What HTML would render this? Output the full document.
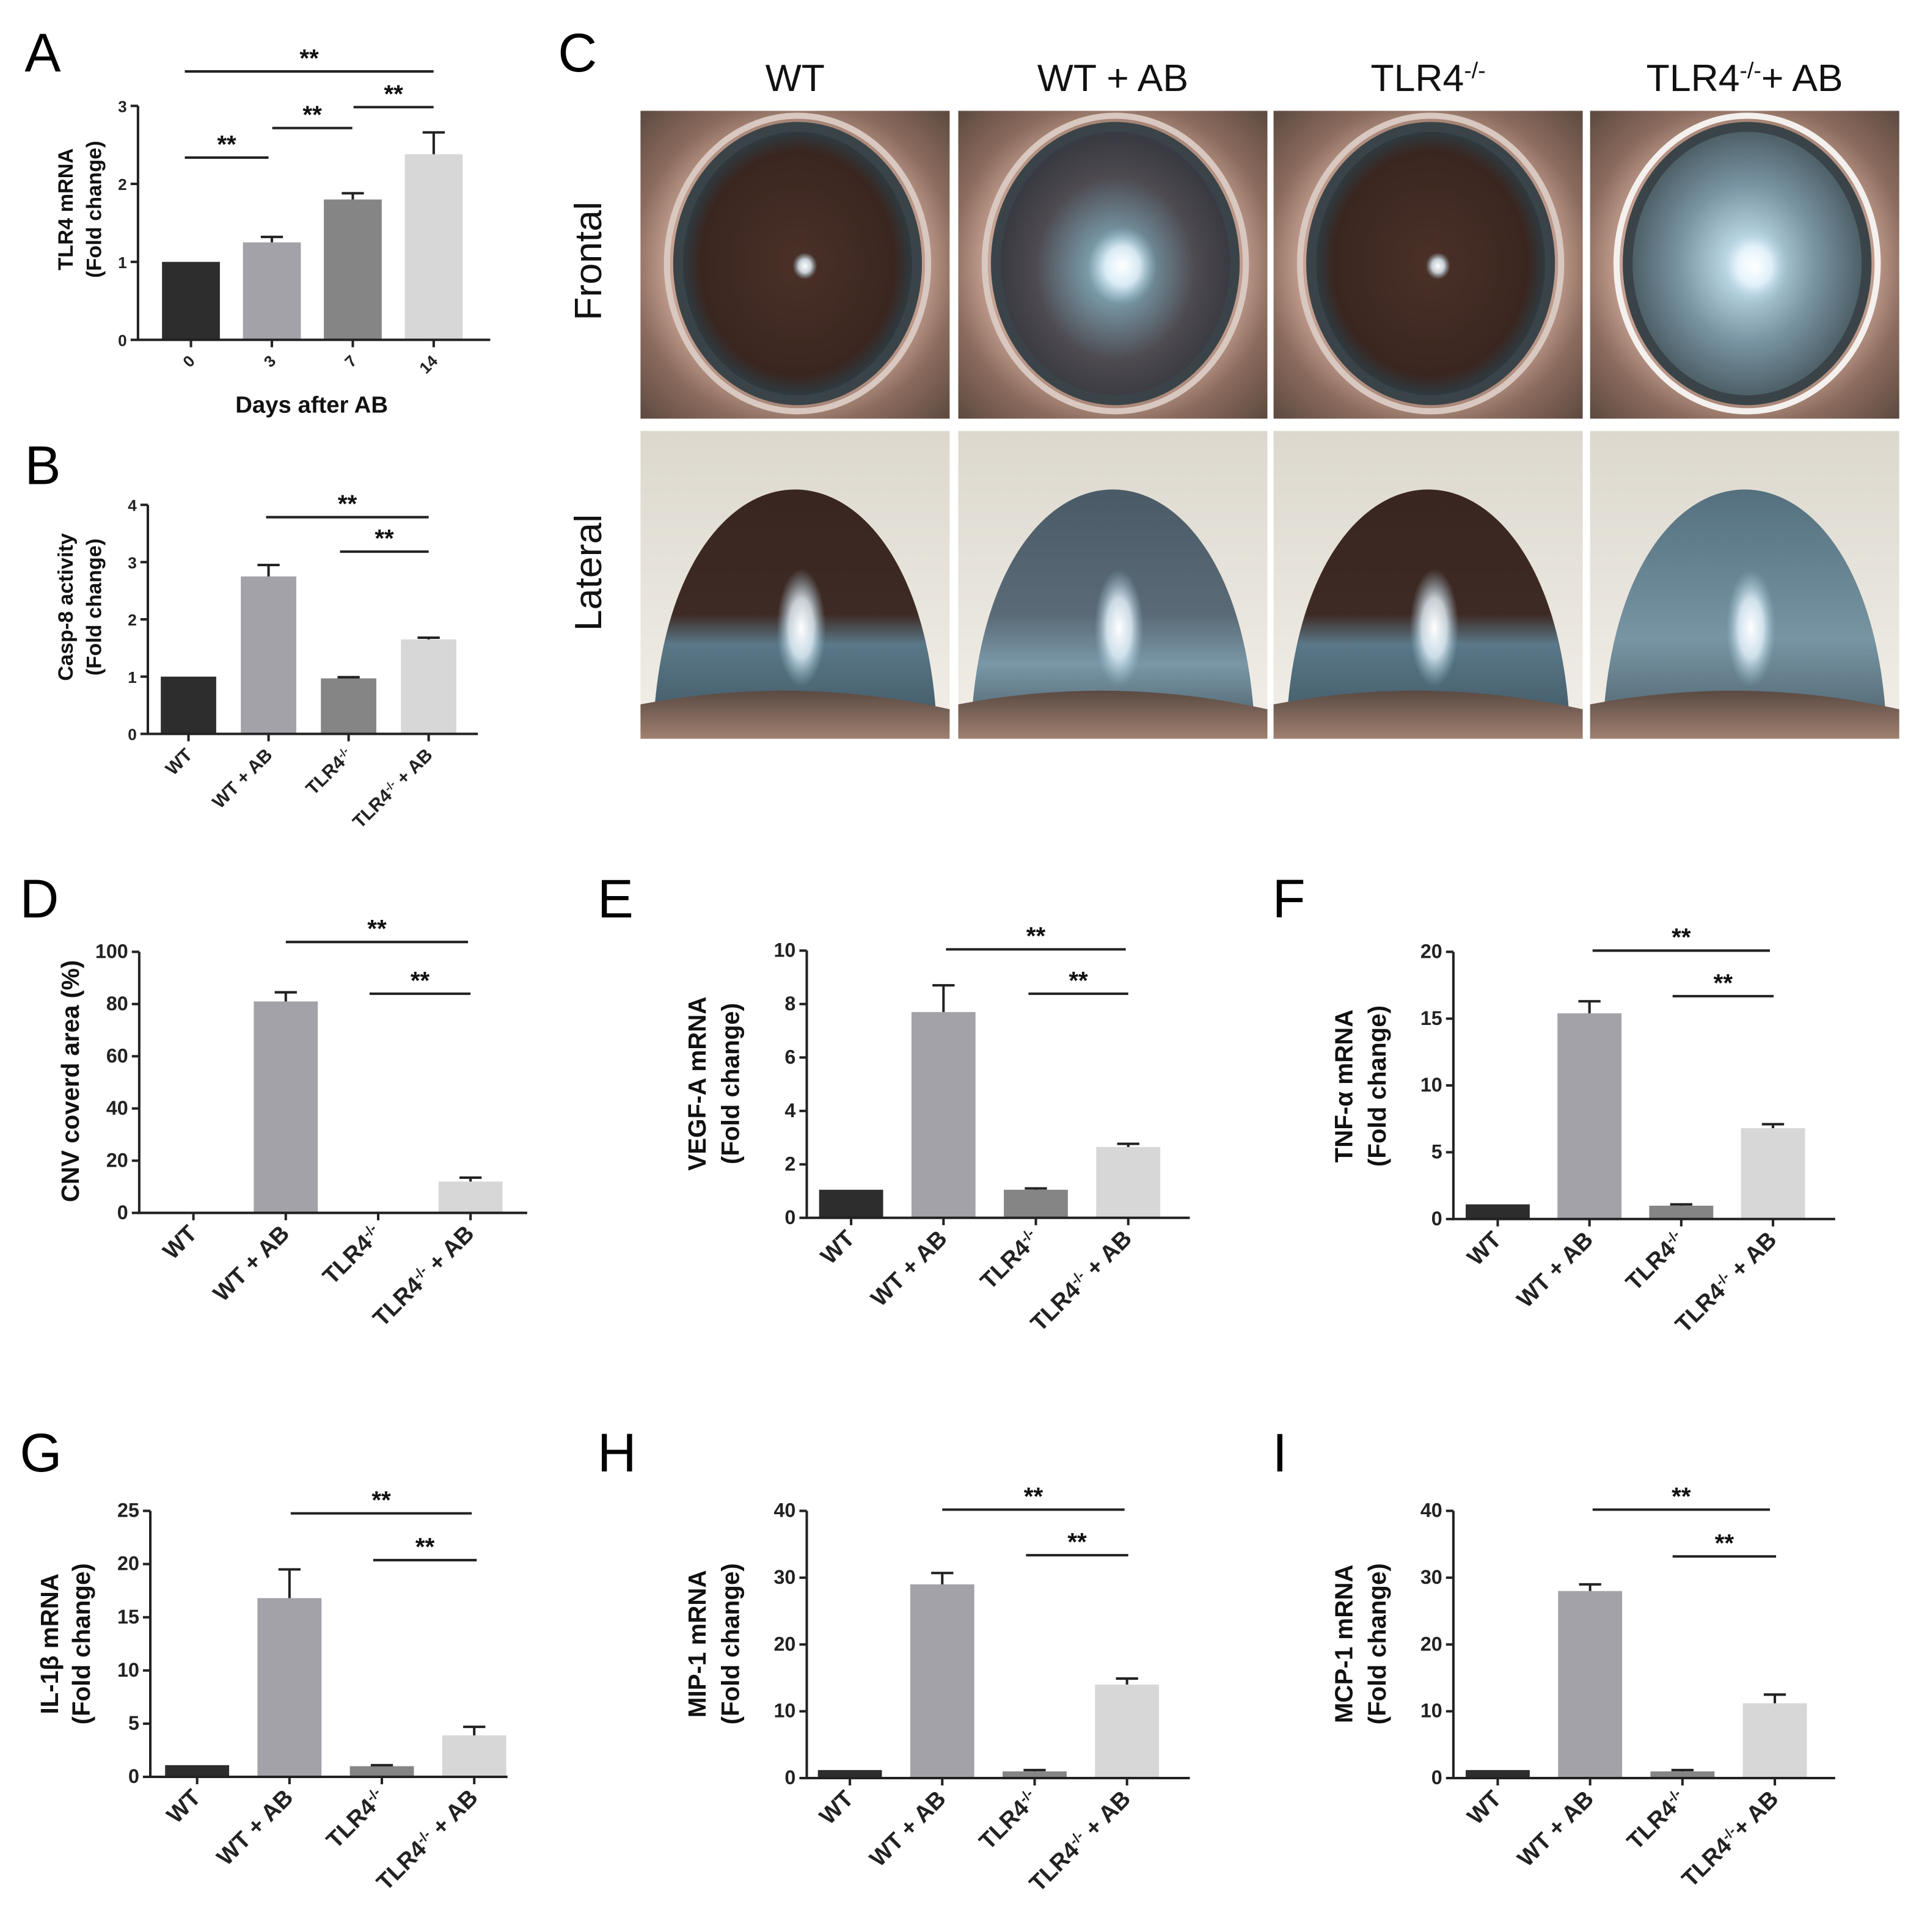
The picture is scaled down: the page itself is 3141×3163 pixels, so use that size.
<!DOCTYPE html>
<html><head><meta charset="utf-8"><style>
html,body{margin:0;padding:0;background:#fff;}
svg{display:block;font-family:"Liberation Sans",Arial,sans-serif;}
</style></head><body>
<svg id="fig" width="3141" height="3163" viewBox="0 0 1558 1569" xmlns="http://www.w3.org/2000/svg">
<defs>
<radialGradient id="skin" cx="50%" cy="50%" r="70%"><stop offset="0.55" stop-color="#cfa99a"/><stop offset="0.75" stop-color="#8b6c5e"/><stop offset="1" stop-color="#5e4a40"/></radialGradient>
<radialGradient id="eyeBrown" cx="50%" cy="50%" r="50%"><stop offset="0" stop-color="#4a3128"/><stop offset="0.85" stop-color="#3a2620"/><stop offset="1" stop-color="#2e3a40"/></radialGradient>
<radialGradient id="eyeMixed" cx="50%" cy="52%" r="50%"><stop offset="0" stop-color="#c8e4ef"/><stop offset="0.25" stop-color="#7898a6"/><stop offset="0.7" stop-color="#4d4a50"/><stop offset="1" stop-color="#3a3a42"/></radialGradient>
<radialGradient id="eyeBlue" cx="50%" cy="50%" r="50%"><stop offset="0" stop-color="#ffffff"/><stop offset="0.2" stop-color="#b8d4e0"/><stop offset="0.6" stop-color="#7894a2"/><stop offset="1" stop-color="#4e6068"/></radialGradient>
<linearGradient id="latBg" x1="0" y1="0" x2="0" y2="1"><stop offset="0" stop-color="#dcd8ce"/><stop offset="1" stop-color="#f2efe8"/></linearGradient>
<linearGradient id="domeBrown" x1="0" y1="0" x2="0" y2="1"><stop offset="0" stop-color="#3a2620"/><stop offset="0.5" stop-color="#3e2a24"/><stop offset="0.62" stop-color="#5a7888"/><stop offset="1" stop-color="#3e5460"/></linearGradient>
<linearGradient id="domeMixed" x1="0" y1="0" x2="0" y2="1"><stop offset="0" stop-color="#4a5a66"/><stop offset="0.5" stop-color="#5a6a76"/><stop offset="0.7" stop-color="#7a98a8"/><stop offset="1" stop-color="#44565f"/></linearGradient>
<linearGradient id="domeBlue" x1="0" y1="0" x2="0" y2="1"><stop offset="0" stop-color="#54707e"/><stop offset="0.6" stop-color="#7895a4"/><stop offset="1" stop-color="#4a5e68"/></linearGradient>
<linearGradient id="fur" x1="0" y1="0" x2="0" y2="1"><stop offset="0" stop-color="#5a4a42"/><stop offset="1" stop-color="#a08070"/></linearGradient>
<radialGradient id="glare" cx="50%" cy="50%" r="50%"><stop offset="0" stop-color="#fff"/><stop offset="0.5" stop-color="#e8f6ff" stop-opacity="0.8"/><stop offset="1" stop-color="#a0c8dc" stop-opacity="0"/></radialGradient>
</defs>
<g id="photos"></g>
<g id="charts"></g>
</svg>
<script>
// ---------------- Data ----------------
const catsA = ['0', '3', '7', '14'];
const valsA = [1.0, 1.25, 1.8, 2.38];
const errsA = [0.0, 0.07, 0.08, 0.28];
const ticksA = [0, 1, 2, 3];

const catsGroup = ['WT', 'WT + AB', 'TLR4-/-', 'TLR4-/- + AB'];
const catsGroupI = ['WT', 'WT + AB', 'TLR4-/-', 'TLR4-/-+ AB'];

const valsB = [1.0, 2.75, 0.97, 1.65];
const errsB = [0.0, 0.2, 0.02, 0.03];
const ticksB = [0, 1, 2, 3, 4];

const valsD = [0, 81, 0, 12];
const errsD = [0, 3.5, 0, 1.5];
const ticksD = [0, 20, 40, 60, 80, 100];

const valsE = [1.05, 7.7, 1.05, 2.65];
const errsE = [0, 1.0, 0.05, 0.12];
const ticksE = [0, 2, 4, 6, 8, 10];

const valsF = [1.1, 15.4, 1.0, 6.8];
const errsF = [0, 0.9, 0.1, 0.3];
const ticksF = [0, 5, 10, 15, 20];

const valsG = [1.1, 16.8, 1.0, 3.9];
const errsG = [0, 2.7, 0.1, 0.8];
const ticksG = [0, 5, 10, 15, 20, 25];

const valsH = [1.2, 29, 1.0, 14];
const errsH = [0, 1.7, 0.2, 0.9];
const ticksH = [0, 10, 20, 30, 40];

const valsI = [1.2, 28, 1.0, 11.2];
const errsI = [0, 1.0, 0.2, 1.3];
const ticksI = [0, 10, 20, 30, 40];

const barColors = ['#2d2d2d', '#a3a2a9', '#858585', '#d7d7d7'];

const NS = 'http://www.w3.org/2000/svg';
function mk(tag, attrs, parent) {
  const e = document.createElementNS(NS, tag);
  for (const k in attrs) e.setAttribute(k, attrs[k]);
  parent.appendChild(e);
  return e;
}
function addLabelText(t, label) {
  const m = label.match(/^(TLR4)(-\/-)(.*)$/);
  if (m) {
    t.appendChild(document.createTextNode(m[1]));
    const s = document.createElementNS(NS, 'tspan');
    s.setAttribute('baseline-shift', 'super');
    s.setAttribute('font-size', '0.6em');
    s.textContent = m[2];
    t.appendChild(s);
    const r = document.createElementNS(NS, 'tspan');
    r.textContent = m[3];
    t.appendChild(r);
  } else t.textContent = label;
}

const chartsRoot = document.getElementById('charts');

function drawChart(cfg) {
  const g = mk('g', {}, chartsRoot);
  
  
  const yMax = cfg.ticks[cfg.ticks.length - 1];
  const yS = v => cfg.y0 - (v / yMax) * (cfg.y0 - cfg.yTop);
  const xS = i => cfg.xc0 + i * cfg.dx;

  const L = mk('text', {x: cfg.letter[0], y: cfg.letter[1], 'font-size': 44, fill: '#000'}, g);
  L.textContent = cfg.letterText;
  
  

  cfg.vals.forEach((v, i) => {
    const cx = xS(i);
    const top = yS(v);
    const b = mk('rect', {x: cx - cfg.bw / 2, y: top, width: cfg.bw, height: Math.max(0, cfg.y0 - top), fill: barColors[i]}, g);
    
    
    const e = cfg.errs[i];
    if (e > 0) {
      const ye = yS(v + e);
      const eb = mk('path', {d: `M${cx} ${top} V${ye} M${cx - 9} ${ye} H${cx + 9}`, stroke: '#222', 'stroke-width': 2, fill: 'none'}, g);
      
      
    }
  });

  const ax = mk('path', {d: `M${cfg.x0} ${cfg.yTop} V${cfg.y0} H${cfg.xEnd}`, stroke: '#222', 'stroke-width': 2, fill: 'none'}, g);
  
  

  cfg.ticks.forEach(t => {
    const y = yS(t);
    mk('line', {x1: cfg.x0 - 6, x2: cfg.x0, y1: y, y2: y, stroke: '#222', 'stroke-width': 2}, g);
    const tl = mk('text', {x: cfg.x0 - 9, y: y + 5, 'font-size': cfg.tickFs, 'text-anchor': 'end', 'font-weight': 'bold', fill: '#222'}, g);
    tl.textContent = t;
    
    
  });

  cfg.cats.forEach((c, i) => {
    const x = xS(i);
    mk('line', {x1: x, x2: x, y1: cfg.y0, y2: cfg.y0 + 6, stroke: '#222', 'stroke-width': 2}, g);
    const tx = mk('text', {x: x + 4, y: cfg.y0 + 18, 'font-size': cfg.catFs, 'text-anchor': 'end', 'font-weight': 'bold', fill: '#222', transform: `rotate(-45 ${x + 4} ${cfg.y0 + 18})`}, g);
    addLabelText(tx, c);
    
    
  });

  cfg.ytitle.forEach((line, k) => {
    const tx = cfg.ytx[k];
    const t = mk('text', {x: tx, y: cfg.yty, 'font-size': cfg.ytFs, 'text-anchor': 'middle', 'font-weight': 'bold', fill: '#111', transform: `rotate(-90 ${tx} ${cfg.yty})`}, g);
    t.textContent = line;
    
    
  });

  cfg.sig.forEach(s => {
    const ln = mk('line', {x1: s[0], x2: s[1], y1: s[2], y2: s[2], stroke: '#222', 'stroke-width': 2}, g);
    
    
    const st = mk('text', {x: (s[0] + s[1]) / 2, y: s[2] - 4, 'font-size': 20, 'text-anchor': 'middle', 'font-weight': 'bold', fill: '#111'}, g);
    st.textContent = '**';
    
    
  });

  if (cfg.xtitle) {
    const xt = mk('text', {x: cfg.xtitle[1], y: cfg.xtitle[2], 'font-size': 19, 'text-anchor': 'middle', 'font-weight': 'bold', fill: '#111'}, g);
    xt.textContent = cfg.xtitle[0];
    
    
  }
}

drawChart({name: 'chart-a', letterText: 'A', letter: [20, 58], cats: catsA, vals: valsA, errs: errsA, ticks: ticksA,
  x0: 112, xEnd: 398, y0: 276, yTop: 86, xc0: 155, dx: 65.7, bw: 47, tickFs: 13, catFs: 13,
  ytitle: ['TLR4 mRNA', '(Fold change)'], ytx: [59, 82], yty: 170, ytFs: 17,
  sig: [[150, 352, 58], [150, 218, 128], [221, 286, 104], [287, 352, 87]], xtitle: ['Days after AB', 253, 335]});

drawChart({name: 'chart-b', letterText: 'B', letter: [20, 393], cats: catsGroup, vals: valsB, errs: errsB, ticks: ticksB,
  x0: 120, xEnd: 388, y0: 596, yTop: 410, xc0: 153, dx: 65, bw: 45, tickFs: 13, catFs: 15,
  ytitle: ['Casp-8 activity', '(Fold change)'], ytx: [59, 82], yty: 493, ytFs: 17,
  sig: [[216, 348, 420], [276, 348, 448]]});

drawChart({name: 'chart-d', letterText: 'D', letter: [16, 745], cats: catsGroup, vals: valsD, errs: errsD, ticks: ticksD,
  x0: 113, xEnd: 428, y0: 985, yTop: 773, xc0: 157, dx: 75, bw: 52, tickFs: 16, catFs: 19,
  ytitle: ['CNV coverd area (%)'], ytx: [64], yty: 878, ytFs: 20,
  sig: [[232, 380, 765], [300, 382, 807]]});

drawChart({name: 'chart-e', letterText: 'E', letter: [485, 745], cats: catsGroup, vals: valsE, errs: errsE, ticks: ticksE,
  x0: 655, xEnd: 966, y0: 989, yTop: 772, xc0: 691, dx: 75, bw: 52, tickFs: 16, catFs: 19,
  ytitle: ['VEGF-A mRNA', '(Fold change)'], ytx: [573, 600], yty: 880, ytFs: 20,
  sig: [[768, 914, 771], [835, 916, 807]]});

drawChart({name: 'chart-f', letterText: 'F', letter: [1033, 745], cats: catsGroup, vals: valsF, errs: errsF, ticks: ticksF,
  x0: 1180, xEnd: 1490, y0: 990, yTop: 773, xc0: 1216, dx: 74.5, bw: 52, tickFs: 16, catFs: 19,
  ytitle: ['TNF-α mRNA', '(Fold change)'], ytx: [1098, 1125], yty: 882, ytFs: 20,
  sig: [[1293, 1437, 772], [1358, 1440, 809]]});

drawChart({name: 'chart-g', letterText: 'G', letter: [16, 1195], cats: catsGroup, vals: valsG, errs: errsG, ticks: ticksG,
  x0: 122, xEnd: 412, y0: 1443, yTop: 1227, xc0: 160, dx: 75, bw: 52, tickFs: 16, catFs: 19,
  ytitle: ['IL-1β mRNA', '(Fold change)'], ytx: [47, 73], yty: 1335, ytFs: 20,
  sig: [[236, 383, 1229], [303, 387, 1267]]});

drawChart({name: 'chart-h', letterText: 'H', letter: [485, 1195], cats: catsGroup, vals: valsH, errs: errsH, ticks: ticksH,
  x0: 655, xEnd: 966, y0: 1444, yTop: 1227, xc0: 690, dx: 75, bw: 52, tickFs: 16, catFs: 19,
  ytitle: ['MIP-1 mRNA', '(Fold change)'], ytx: [573, 600], yty: 1335, ytFs: 20,
  sig: [[765, 913, 1226], [833, 916, 1263]]});

drawChart({name: 'chart-i', letterText: 'I', letter: [1033, 1195], cats: catsGroupI, vals: valsI, errs: errsI, ticks: ticksI,
  x0: 1180, xEnd: 1490, y0: 1444, yTop: 1227, xc0: 1216, dx: 75, bw: 52, tickFs: 16, catFs: 19,
  ytitle: ['MCP-1 mRNA', '(Fold change)'], ytx: [1098, 1125], yty: 1335, ytFs: 20,
  sig: [[1293, 1437, 1226], [1358, 1442, 1264]]});

// ---------------- Panel C photos ----------------
const ph = document.getElementById('photos');
const cl = mk('text', {x: 453, y: 58, 'font-size': 44, fill: '#000'}, ph);
cl.textContent = 'C';



const colX = [520, 778, 1034, 1291];
const colW = 251;
const colTitles = ['WT', 'WT + AB', 'TLR4-/-', 'TLR4-/-+ AB'];
const frontFill = ['url(#eyeBrown)', 'url(#eyeMixed)', 'url(#eyeBrown)', 'url(#eyeBlue)'];
const domeFill = ['url(#domeBrown)', 'url(#domeMixed)', 'url(#domeBrown)', 'url(#domeBlue)'];
colX.forEach((x, i) => {
  const cx = x + colW / 2;
  const t = mk('text', {x: cx, y: 74, 'font-size': 31, 'text-anchor': 'middle', fill: '#111'}, ph);
  addLabelText(t, colTitles[i]);
  
  
  const f = mk('g', {}, ph);
  
  
  mk('rect', {x: x, y: 90, width: colW, height: 250, fill: 'url(#skin)'}, f);
  mk('ellipse', {cx: cx + 2, cy: 214, rx: 106, ry: 120, fill: 'none', stroke: i === 3 ? '#f4f0ee' : '#d8c8c0', 'stroke-width': 5}, f);
  mk('ellipse', {cx: cx + 2, cy: 214, rx: 101, ry: 115, fill: '#3a4448'}, f);
  mk('ellipse', {cx: cx + 2, cy: 214, rx: 93, ry: 107, fill: frontFill[i]}, f);
  mk('ellipse', {cx: cx + 8, cy: 216, rx: i % 2 ? 28 : 10, ry: i % 2 ? 32 : 11, fill: 'url(#glare)'}, f);
  const l = mk('g', {}, ph);
  
  
  mk('rect', {x: x, y: 350, width: colW, height: 250, fill: 'url(#latBg)'}, l);
  mk('path', {d: `M${x + 10} 600 C${x + 18} 330 ${x + colW - 18} 330 ${x + colW - 10} 600 Z`, fill: domeFill[i]}, l);
  mk('ellipse', {cx: cx + 5, cy: 510, rx: 20, ry: 48, fill: 'url(#glare)'}, l);
  mk('path', {d: `M${x} 600 V572 Q${cx} 548 ${x + colW} 576 V600 Z`, fill: 'url(#fur)'}, l);
});
const rowLabels = [['Frontal', 212], ['Lateral', 465]];
rowLabels.forEach(r => {
  const t = mk('text', {x: 488, y: r[1], 'font-size': 31, 'text-anchor': 'middle', fill: '#111', transform: `rotate(-90 488 ${r[1]})`}, ph);
  t.textContent = r[0];
  
  
});
</script>
</body></html>
